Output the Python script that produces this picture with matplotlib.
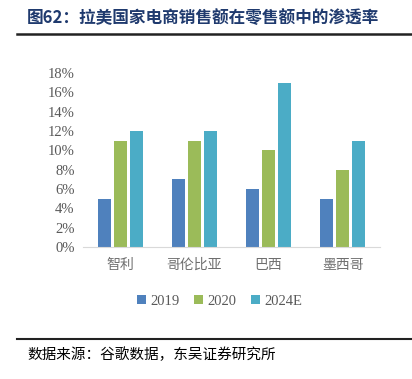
import numpy as np
import matplotlib.pyplot as plt
from matplotlib.lines import Line2D

plt.rcParams['font.family'] = ['Liberation Serif', 'Noto Sans CJK SC', 'DejaVu Sans']

countries = ['智利', '哥伦比亚', '巴西', '墨西哥']
series = ['2019', '2020', '2024E']
v2019 = [5, 7, 6, 5]
v2020 = [11, 11, 10, 8]
v2024 = [12, 12, 17, 11]
colors = ['#4F81BD', '#9BBB59', '#4BACC6']

fig = plt.figure(figsize=(4.12, 3.79), dpi=100)
ax = fig.add_axes([83/412, 132/379, 297/412, 174/379])

x = np.arange(len(countries))
w = 0.175
off = 0.215
for i, (vals, c, lab) in enumerate(zip([v2019, v2020, v2024], colors, series)):
    ax.bar(x + (i - 1) * off, vals, width=w, color=c, label=lab)

ax.set_xlim(-0.5, 3.5)
ax.set_ylim(0, 18)
ax.set_yticks(range(0, 19, 2))
ax.set_yticklabels([f'{t}%' for t in range(0, 19, 2)])
ax.set_xticks(x)
ax.set_xticklabels(countries, family=['Noto Sans CJK SC'], fontsize=10, color='#6E6E6E')
for s in ['top', 'right', 'left']:
    ax.spines[s].set_visible(False)
ax.spines['bottom'].set_color('#D9D9D9')
ax.tick_params(axis='y', length=0, labelsize=10.5, labelcolor='#595959', pad=6)
ax.tick_params(axis='x', length=0, pad=8)

ax.legend(loc='upper center', bbox_to_anchor=(0.46, -0.2), ncol=3, frameon=False,
          fontsize=10.5, handlelength=0.6, handleheight=0.6, handletextpad=0.3,
          columnspacing=1.0, labelcolor='#595959')

fig.text(27/412, 1 - 18/379, '图62：拉美国家电商销售额在零售额中的渗透率', family=['Noto Sans CJK SC'],
         fontsize=12, fontweight='bold', color='#1F3A6E', va='center', ha='left')
fig.add_artist(Line2D([17/412, 1], [1 - 34/379, 1 - 34/379], color='#222222', lw=1.8))
fig.add_artist(Line2D([17/412, 1], [1 - 339/379, 1 - 339/379], color='#222222', lw=1.5))
fig.text(27/412, 1 - 355/379, '数据来源：谷歌数据，东吴证券研究所', family=['Noto Sans CJK SC'],
         fontsize=10.5, color='black', va='center', ha='left')

fig.savefig('out.png', dpi=100)
